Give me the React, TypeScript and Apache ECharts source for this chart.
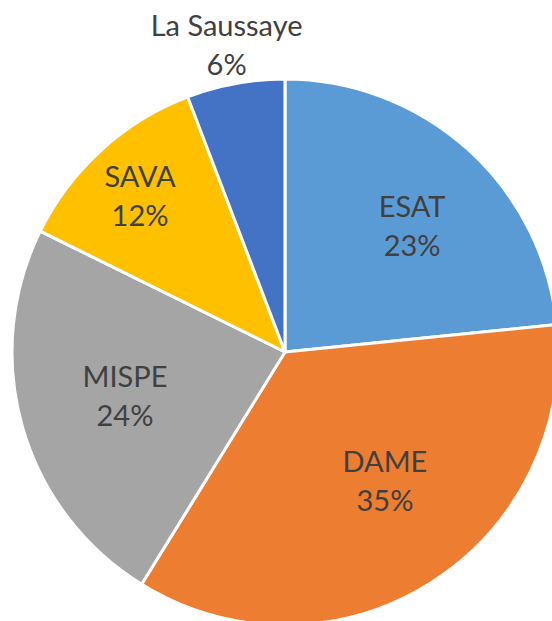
import React, { useEffect, useRef } from "react";
import * as echarts from "echarts";

const categories = ["ESAT", "DAME", "MISPE", "SAVA", "La Saussaye"];
const values = [23.4, 35.4, 23.5, 11.9, 5.8];
const colors = ["#5B9BD5", "#ED7D31", "#A5A5A5", "#FFC000", "#4472C4"];
// label distance from centre (fraction of radius) and angular shift from the slice middle (degrees)
const labelRadius = [0.658, 0.594, 0.607, 0.783, 1.148];
const labelShift = [2.9, -6.0, 1.0, -0.4, -0.3];

const CX = 285;
const CY = 352;
const R = 273;

export default function App() {
  const ref = useRef<HTMLDivElement>(null);
  useEffect(() => {
    if (!ref.current) return;
    const chart = echarts.init(ref.current, undefined, { renderer: "svg" });
    chart.setOption({
      animation: false,
      backgroundColor: "#ffffff",
      series: [
        {
          type: "pie",
          center: [CX, CY],
          radius: [0, R],
          startAngle: 90,
          clockwise: true,
          avoidLabelOverlap: false,
          itemStyle: { borderColor: "#ffffff", borderWidth: 3 },
          label: {
            show: true,
            position: "inside",
            color: "#404040",
            fontFamily: "Lato",
            fontSize: 29,
            lineHeight: 39,
            align: "center",
            formatter: (p: any) => `${p.name}\n${Math.round(p.percent)}%`,
          },
          labelLine: { show: false },
          labelLayout: (p: any) => {
            const lr = p.labelRect;
            const lx = lr.x + lr.width / 2;
            const ly = lr.y + lr.height / 2;
            // angle clockwise from top
            const a0 = Math.atan2(lx - CX, -(ly - CY));
            const a = a0 + (labelShift[p.dataIndex] * Math.PI) / 180;
            const target = labelRadius[p.dataIndex] * R;
            const tx = CX + target * Math.sin(a);
            const ty = CY - target * Math.cos(a);
            return { dx: tx - lx, dy: ty - ly };
          },
          data: categories.map((name, i) => ({
            name,
            value: values[i],
            itemStyle: { color: colors[i] },
          })),
        },
      ],
    });
    return () => chart.dispose();
  }, []);
  return (
    <div
      ref={ref}
      style={{ position: "absolute", left: 0, top: 0, width: 552, height: 621 }}
    />
  );
}
